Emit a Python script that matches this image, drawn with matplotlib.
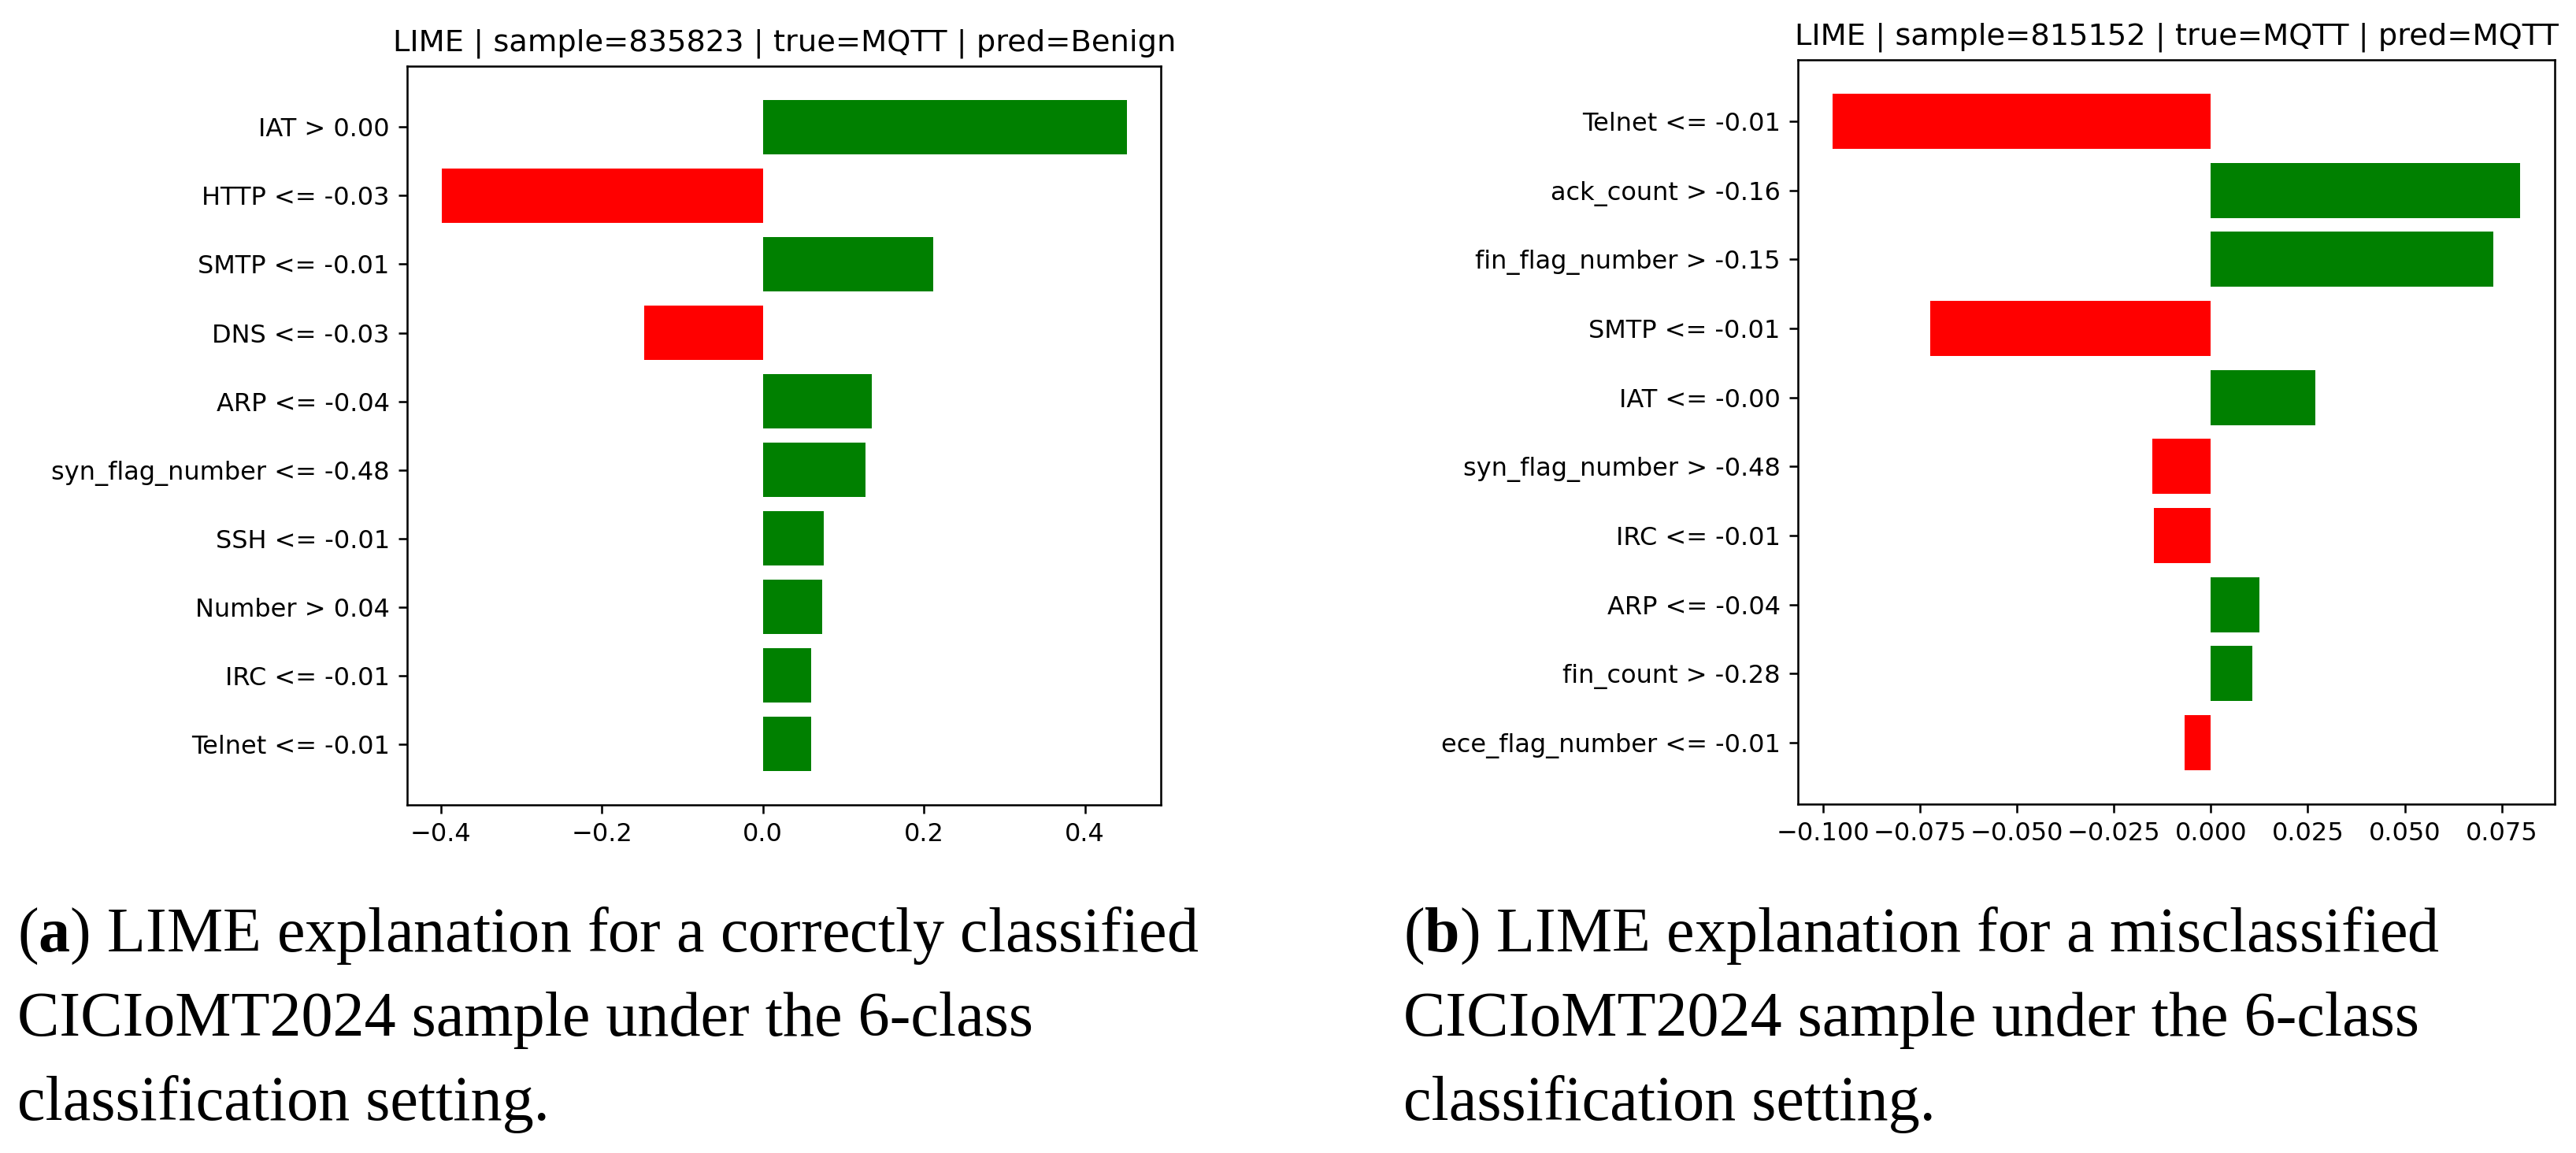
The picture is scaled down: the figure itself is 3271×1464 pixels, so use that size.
import matplotlib
matplotlib.use("Agg")
import matplotlib.pyplot as plt
import numpy as np

# left panel: correctly classified sample
left_title = "LIME | sample=835823 | true=MQTT | pred=Benign"
left_features = [
    "IAT > 0.00", "HTTP <= -0.03", "SMTP <= -0.01", "DNS <= -0.03",
    "ARP <= -0.04", "syn_flag_number <= -0.48", "SSH <= -0.01",
    "Number > 0.04", "IRC <= -0.01", "Telnet <= -0.01",
]
left_weights = [0.452, -0.399, 0.212, -0.147, 0.135, 0.128, 0.076, 0.074, 0.060, 0.060]

# right panel: misclassified sample
right_title = "LIME | sample=815152 | true=MQTT | pred=MQTT"
right_features = [
    "Telnet <= -0.01", "ack_count > -0.16", "fin_flag_number > -0.15",
    "SMTP <= -0.01", "IAT <= -0.00", "syn_flag_number > -0.48",
    "IRC <= -0.01", "ARP <= -0.04", "fin_count > -0.28",
    "ece_flag_number <= -0.01",
]
right_weights = [-0.0975, 0.0798, 0.0727, -0.0723, 0.0269, -0.0151, -0.0147, 0.0126, 0.0107, -0.0067]

caption_a = ["(a) LIME explanation for a correctly classified",
             "CICIoMT2024 sample under the 6-class",
             "classification setting."]
caption_b = ["(b) LIME explanation for a misclassified",
             "CICIoMT2024 sample under the 6-class",
             "classification setting."]

plt.rcParams["mathtext.fontset"] = "custom"
plt.rcParams["mathtext.rm"] = "Liberation Serif"
plt.rcParams["mathtext.bf"] = "Liberation Serif:bold"

DPI = 230
fig = plt.figure(figsize=(3271 / DPI, 1464 / DPI), dpi=DPI)


def lime_bars(axis, features, weights, title):
    # same drawing as lime's as_pyplot_figure: first feature on top
    vals = list(reversed(weights))
    names = list(reversed(features))
    pos = np.arange(len(vals)) + 0.5
    colors = ["green" if v > 0 else "red" for v in vals]
    axis.barh(pos, vals, align="center", color=colors)
    axis.set_yticks(pos)
    axis.set_yticklabels(names)
    axis.set_title(title)


ax_left = fig.add_axes([0.1581, 0.3019, 0.2926, 0.6407])
lime_bars(ax_left, left_features, left_weights, left_title)

ax_right = fig.add_axes([0.6980, 0.3026, 0.2938, 0.6455])
lime_bars(ax_right, right_features, right_weights, right_title)

baselines = [1 - 1208 / 1464, 1 - 1315 / 1464, 1 - 1422 / 1464]
for x0, lines, letter in ((22 / 3271, caption_a, "a"), (1782 / 3271, caption_b, "b")):
    for i, (line, y) in enumerate(zip(lines, baselines)):
        if i == 0:
            line = "(" + r"$\mathbf{" + letter + "}$" + line[2:]
        fig.text(x0, y, line, family="Liberation Serif", fontsize=25.1,
                 ha="left", va="baseline")

fig.savefig("out.png", dpi=DPI)
